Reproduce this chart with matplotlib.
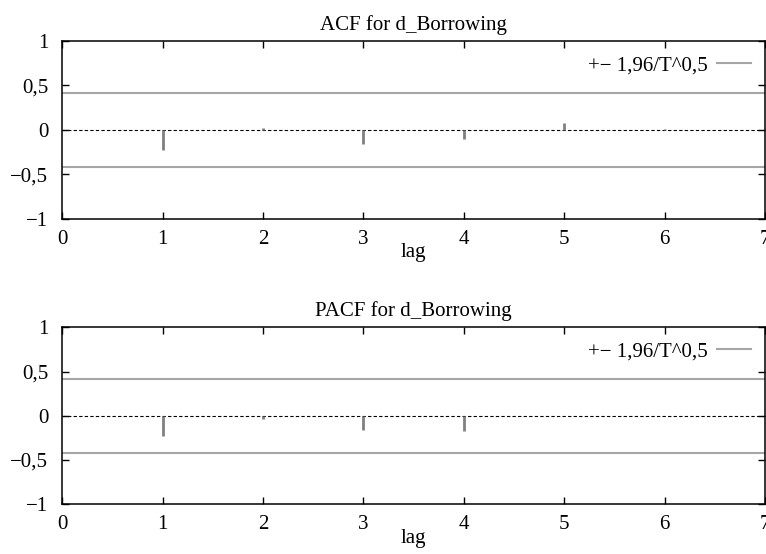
import matplotlib

matplotlib.use("Agg")
import matplotlib.pyplot as plt
import numpy as np

plt.rcParams["font.family"] = ["Liberation Serif", "DejaVu Serif"]
plt.rcParams["font.size"] = 15

lags = [1, 2, 3, 4, 5, 6]
acf_vals = [-0.225, 0.02, -0.16, -0.10, 0.08, 0.01]
pacf_lags = [1, 2, 3, 4]
pacf_vals = [-0.23, -0.04, -0.16, -0.175]
n_obs = 22
band = 1.96 / np.sqrt(n_obs)

yticks = [-1, -0.5, 0, 0.5, 1]
ytick_labels = ["\u22121", "\u22120,5", "0", "0,5", "1"]
xticks = [0, 1, 2, 3, 4, 5, 6, 7]


def draw_panel(ax, x, y, title):
    ax.axhline(0, color="black", linestyle=(0, (3, 2)), linewidth=0.8)
    ax.axhline(band, color="#a6a6a6", linewidth=1.5, label="+\u2212 1,96/T^0,5")
    ax.axhline(-band, color="#a6a6a6", linewidth=1.5)
    ax.vlines(x, 0, y, color="#808080", linewidth=2.0)
    ax.set_xlim(0, 7)
    ax.set_ylim(-1, 1)
    ax.set_xticks(xticks)
    ax.set_yticks(yticks)
    ax.set_yticklabels(ytick_labels)
    ax.tick_params(direction="in", top=True, right=True, length=5, width=1)
    ax.tick_params(axis="x", pad=8)
    ax.tick_params(axis="y", pad=10)
    for sp in ax.spines.values():
        sp.set_linewidth(1.1)
    ax.set_xlabel("lag", labelpad=-4)
    ax.set_title(title, fontsize=15, pad=8)
    ax.legend(loc="upper right", frameon=False, markerfirst=False,
              handlelength=1.6, borderaxespad=0.4, handletextpad=0.45,
              borderpad=0.3)


fig = plt.figure(figsize=(7.66, 5.54), dpi=100)
ax1 = fig.add_axes([0.081, 0.605, 0.918, 0.321])
ax2 = fig.add_axes([0.081, 0.090, 0.918, 0.319])
draw_panel(ax1, lags, acf_vals, "ACF for d_Borrowing")
draw_panel(ax2, pacf_lags, pacf_vals, "PACF for d_Borrowing")
fig.savefig("out.png", dpi=100)
